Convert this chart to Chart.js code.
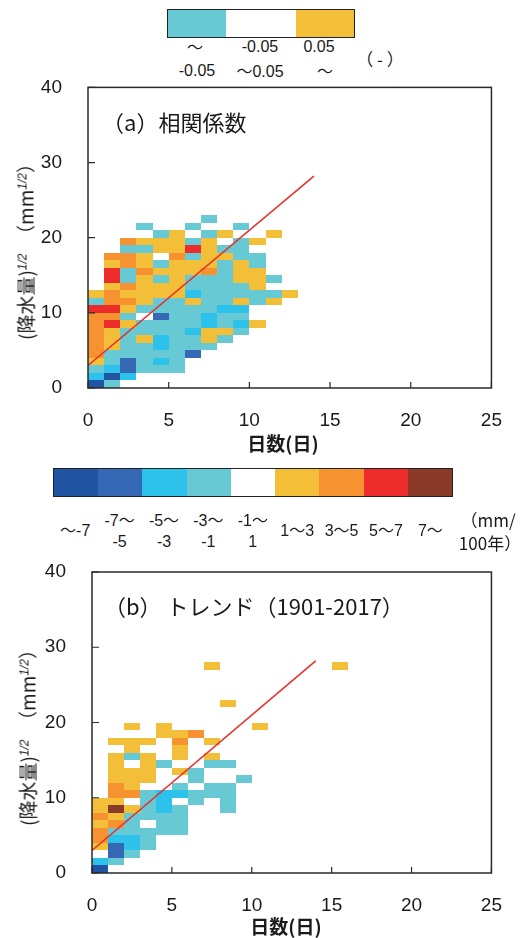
<!DOCTYPE html>
<html lang="ja">
<head>
<meta charset="UTF-8">
<title>降水量と日数</title>
<script src="https://cdn.jsdelivr.net/npm/chart.js"></script>
<style>
    body { margin: 0; background: #fff; }
    #page { position: relative; width: 523px; height: 938px; overflow: hidden;
            font-family: "Liberation Sans", Arial, sans-serif; color: #1a1a1a; }
    .t { position: absolute; white-space: nowrap; line-height: 1; transform: translate(-50%, -50%); }
    .jp { font-family: "Noto Sans CJK JP", sans-serif; }
    .cb { position: absolute; display: flex; border: 1.5px solid #222; box-sizing: border-box; }
    .cb div { height: 100%; }
    .ylab { position: absolute; white-space: nowrap; font-family: "Noto Sans CJK JP", sans-serif;
            font-size: 19px; line-height: 1; transform: translate(-50%, -50%) rotate(-90deg); }
    .ylab sup { font-family: "Liberation Sans", sans-serif; font-size: 12px; font-style: italic; }
    .small { font-size: 16px; }
    .unit { font-size: 17px; }
    .panel { position: absolute; white-space: nowrap; font-family: "Noto Sans CJK JP", sans-serif;
             font-size: 22px; line-height: 1; transform: translateY(-50%); }
    .xt { font-family: "Noto Sans CJK JP", sans-serif; font-size: 19px; font-weight: bold; }
    canvas { position: absolute; left: 0; }
</style>
</head>
<body>
<div id="page">
    <!-- colour key for (a) -->
    <div class="cb" id="keyA" style="left:167px; top:9px; width:188px; height:29px;"></div>
    <div class="t small" style="left:195px; top:47px;"><span class="jp">～</span></div>
    <div class="t small" style="left:260px; top:47px;">-0.05</div>
    <div class="t small" style="left:319px; top:47px;">0.05</div>
    <div class="t small" style="left:197px; top:71px;">-0.05</div>
    <div class="t small" style="left:260px; top:71px;"><span class="jp">～</span>0.05</div>
    <div class="t small" style="left:325px; top:71px;"><span class="jp">～</span></div>
    <div class="t unit jp" style="left:380px; top:58px;">（ - ）</div>

    <canvas id="chartA" width="523" height="410" style="top:50px;"></canvas>
    <div class="panel" style="left:102px; top:121px;">（a）相関係数</div>
    <div class="ylab" style="left:25px; top:247px;">(降水量)<sup>1/2</sup>　（mm<sup>1/2</sup>）</div>
    <div class="t xt" style="left:283px; top:442px;">日数(日)</div>

    <!-- colour key for (b) -->
    <div class="cb" id="keyB" style="left:53px; top:468px; width:400px; height:29px;"></div>
    <div id="keyBLabels"></div>
    <div class="t jp unit" style="left:488px; top:519px;">（mm/</div>
    <div class="t jp unit" style="left:490px; top:542px;">100年）</div>

    <canvas id="chartB" width="523" height="408" style="top:530px;"></canvas>
    <div class="panel" style="left:104px; top:605px;">（b） トレンド（1901-2017）</div>
    <div class="ylab" style="left:27px; top:733px;">(降水量)<sup>1/2</sup>　（mm<sup>1/2</sup>）</div>
    <div class="t xt" style="left:286px; top:925px;">日数(日)</div>
</div>
<script>
    const _ = null;
    // axis ticks
    const xTicks = [0, 5, 10, 15, 20, 25];
    const yTicks = [0, 10, 20, 30, 40];

    // regression line (same in both panels)
    const fitX = [0, 14];
    const fitY = [3, 28.2];

    // class of each 1x1 cell, rows from y=0 upward, columns from x=0
    // -4..-1 blues, 0 white, 1 yellow, 2 orange, 3 red, 4 brown
    const corrRows = [
        [-4, -1],
        [-2, -4, -2],
        [-1, -2, -3, -1, -1, -1],
        [1, -1, -3, -1, -2, -1],
        [2, -1, -1, -1, -1, -1, -3],
        [2, 1, -1, -1, -2, -1, -1, -1],
        [2, 1, -1, 1, -2, -1, -1, 1, -1],
        [2, 1, -1, -1, -1, -1, -2, 1, 1, -1],
        [2, 3, 1, -1, -1, -1, -1, -2, -1, -2, 1],
        [2, 2, -1, 0, -3, -1, -1, -2, -1, -1],
        [3, 3, 1, -1, -1, -1, -1, -1, -2, -2],
        [-1, 2, 2, 1, -1, -1, 1, -1, -1, 1, -1, 1],
        [1, 2, 1, 1, 1, 1, -2, -1, -1, -1, -1, -1, 1],
        [_, 1, 2, 1, 1, 1, -1, -1, -1, -1, 1],
        [_, 3, -1, 1, -1, 1, -1, -1, -1, 1, 1, -1],
        [_, 3, -1, 2, 1, 1, 1, 2, -1, 1, 1],
        [_, 1, 2, 1, -1, 1, 1, 1, -1, 1, -1],
        [_, 2, 2, 1, 0, 2, -1, 1, 1, -1, -1],
        [_, _, -1, -1, 1, 1, 3, 1, -1, -1],
        [_, _, 2, 1, 1, 1, -1, 1, 0, -1, 1],
        [_, _, _, _, -1, 1, _, -1, 1, _, _, 1],
        [_, _, _, -1, _, _, -1, _, _, -1],
        [_, _, _, _, _, _, _, -1]
    ];

    const trendRows = [
        [-4],
        [-2, -1],
        [0, -3, -1],
        [1, -3, -2, -1],
        [2, -2, -2, -1],
        [2, -1, -1, -1, -1, -1],
        [1, 2, -1, 0, -1, -1],
        [2, 1, -1, -1, -1, -1],
        [1, 4, 1, -1, -2, -1, _, _, -1],
        [1, 1, 0, -1, -2, 0, -1, _, -1],
        [_, 2, 2, -1, -2, -2, -1, -1, -1],
        [_, 2, 1, 0, _, -1, 0, -1, -1],
        [_, 1, 1, 1, _, _, -1, _, _, -1],
        [_, 1, 1, 1, _, 1, -1],
        [_, 1, 0, 1, -1, _, _, -1, -1],
        [_, 1, -1, 1, _, 1, _, 1],
        [_, _, 1, _, _, 1],
        [_, 1, 1, 1, _, 2, _, 1],
        [_, _, _, _, 1, 1, 2],
        [_, _, 1, _, 1, _, _, _, _, _, 1],
        [],
        [],
        [_, _, _, _, _, _, _, _, 1],
        [], [], [], [],
        [_, _, _, _, _, _, _, 1, _, _, _, _, _, _, _, 1]
    ];

    // colour keys
    const corrKeyClasses = [-1, 0, 1];
    const trendKeyClasses = [-4, -3, -2, -1, 0, 1, 2, 3, 4];
    const trendKeyTop = ['～-7', '-7～', '-5～', '-3～', '-1～', '1～3', '3～5', '5～7', '7～'];
    const trendKeyBottom = ['', '-5', '-3', '-1', '1', '', '', '', ''];

    const classColors = {
        '-4': '#2155a4', '-3': '#3569b5', '-2': '#2dc2eb', '-1': '#66c9d4',
        '0': '#ffffff', '1': '#f3bf38', '2': '#f6922f', '3': '#ec2b2b', '4': '#8b3a2a'
    };

    // keys
    const keyA = document.getElementById('keyA');
    const keyAWidths = [59, 70, 59];
    corrKeyClasses.forEach((c, i) => {
        const d = document.createElement('div');
        d.style.background = classColors[c];
        d.style.flex = keyAWidths[i];
        keyA.appendChild(d);
    });
    const keyB = document.getElementById('keyB');
    const keyBLabels = document.getElementById('keyBLabels');
    trendKeyClasses.forEach((c, i) => {
        const d = document.createElement('div');
        d.style.background = classColors[c];
        d.style.flex = 1;
        keyB.appendChild(d);
        const cx = 53 + 44.4 * (i + 0.5);
        const top = trendKeyTop[i], bot = trendKeyBottom[i];
        const l1 = document.createElement('div');
        l1.className = 't small';
        l1.style.left = cx + 'px';
        l1.style.top = (bot ? 520 : 530) + 'px';
        l1.innerHTML = top.replace(/～/g, '<span class="jp">～</span>');
        keyBLabels.appendChild(l1);
        if (bot) {
            const l2 = document.createElement('div');
            l2.className = 't small';
            l2.style.left = cx + 'px';
            l2.style.top = '542px';
            l2.textContent = bot;
            keyBLabels.appendChild(l2);
        }
    });

    function cellsPlugin(rows) {
        return {
            id: 'cells',
            beforeDatasetsDraw(chart) {
                const { ctx, scales: { x, y } } = chart;
                ctx.save();
                rows.forEach((row, r) => {
                    row.forEach((v, c) => {
                        if (v === null) return;
                        const x0 = Math.round(x.getPixelForValue(c));
                        const x1 = Math.round(x.getPixelForValue(c + 1));
                        const y0 = Math.round(y.getPixelForValue(r + 1));
                        const y1 = Math.round(y.getPixelForValue(r));
                        ctx.fillStyle = classColors[v];
                        ctx.fillRect(x0, y0, x1 - x0, y1 - y0);
                    });
                });
                ctx.restore();
            }
        };
    }

    // frame and inward tick marks
    const framePlugin = {
        id: 'frame',
        afterDatasetsDraw(chart) {
            const { ctx, chartArea: a, scales: { x, y } } = chart;
            ctx.save();
            ctx.strokeStyle = '#2a2a2a';
            ctx.lineWidth = 1.5;
            ctx.strokeRect(a.left, a.top, a.right - a.left, a.bottom - a.top);
            ctx.lineWidth = 1.2;
            ctx.beginPath();
            xTicks.forEach(v => {
                const px = x.getPixelForValue(v);
                ctx.moveTo(px, a.bottom);
                ctx.lineTo(px, a.bottom - 6);
            });
            yTicks.forEach(v => {
                const py = y.getPixelForValue(v);
                ctx.moveTo(a.left, py);
                ctx.lineTo(a.left + 7, py);
            });
            ctx.stroke();
            ctx.restore();
        }
    };

    function makeChart(id, rows, geo) {
        const tickFont = { family: '"Liberation Sans", Arial, sans-serif', size: 19 };
        return new Chart(document.getElementById(id), {
            type: 'scatter',
            data: {
                datasets: [{
                    data: fitX.map((v, i) => ({ x: v, y: fitY[i] })),
                    showLine: true,
                    borderColor: '#e8312c',
                    borderWidth: 1.6,
                    pointRadius: 0,
                    fill: false
                }]
            },
            options: {
                responsive: false,
                animation: false,
                layout: { padding: { top: geo.top, right: geo.right, left: 0, bottom: 0 } },
                plugins: { legend: { display: false }, tooltip: { enabled: false } },
                scales: {
                    x: {
                        type: 'linear', min: 0, max: 25,
                        afterBuildTicks: s => { s.ticks = xTicks.map(v => ({ value: v })); },
                        afterFit: s => { s.height = geo.xh; },
                        grid: { display: false, drawTicks: false },
                        border: { display: false },
                        ticks: { padding: 21, font: tickFont, color: '#1a1a1a', maxRotation: 0, autoSkip: false }
                    },
                    y: {
                        type: 'linear', min: 0, max: 40,
                        afterBuildTicks: s => { s.ticks = yTicks.map(v => ({ value: v })); },
                        afterFit: s => { s.width = geo.left; },
                        grid: { display: false, drawTicks: false },
                        border: { display: false },
                        ticks: { padding: 26, font: tickFont, color: '#1a1a1a', autoSkip: false }
                    }
                }
            },
            plugins: [cellsPlugin(rows), framePlugin]
        });
    }

    makeChart('chartA', corrRows, { top: 37, right: 23, left: 88, xh: 72 });
    makeChart('chartB', trendRows, { top: 42, right: 18, left: 92, xh: 65 });
</script>
</body>
</html>
